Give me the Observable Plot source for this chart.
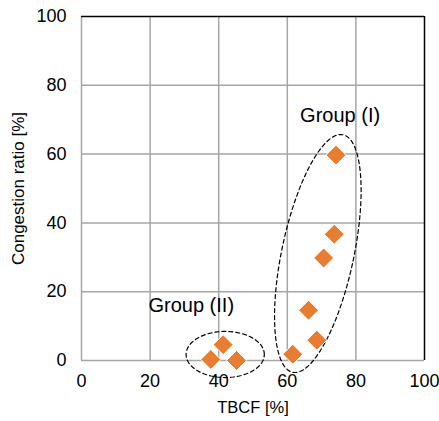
<!DOCTYPE html>
<html><head>
<meta charset="utf-8">
<script src="https://cdn.jsdelivr.net/npm/d3@7"></script>
<script src="https://cdn.jsdelivr.net/npm/@observablehq/plot@0.6"></script>
<style>
body{margin:0;background:#fff}
svg{font-family:"Liberation Sans",Arial,sans-serif}
</style>
</head><body><div id="chart"></div>
<script>
const tbcf = [37.7, 41.3, 45.2, 61.6, 68.6, 66.2, 70.6, 73.7, 74.2];
const congestion = [0.3, 4.6, 0, 1.8, 5.9, 14.6, 29.8, 36.7, 59.7];
const xTicks = [0, 20, 40, 60, 80, 100];
const yTicks = [0, 20, 40, 60, 80, 100];
const groupLabels = ["Group (I)", "Group (II)"];
const groupLabelX = [75.4, 32.0];
const groupLabelY = [71.3, 16.0];
// dashed ellipse annotations (data units): centre, minor/major semi-axes, tilt in degrees
const ellipseCx = [68.9, 41.9];
const ellipseCy = [31.1, 1.75];
const ellipseA = [10.5, 11.4];
const ellipseB = [35.3, 6.7];
const ellipseTilt = [12, 0];

const points = tbcf.map((x, i) => ({x, y: congestion[i]}));
const labels = groupLabels.map((t, i) => ({t, x: groupLabelX[i], y: groupLabelY[i]}));
const ellipse = [];
ellipseCx.forEach((cx, k) => {
  const th = ellipseTilt[k] * Math.PI / 180;
  for (let j = 0; j < 120; j++) {
    const t = j / 120 * 2 * Math.PI;
    const u = ellipseA[k] * Math.cos(t), v = ellipseB[k] * Math.sin(t);
    ellipse.push({g: k, x: cx + u * Math.cos(th) + v * Math.sin(th), y: ellipseCy[k] - u * Math.sin(th) + v * Math.cos(th)});
  }
});

const grid = "#a6a6a6";
const chart = Plot.plot({
  width: 439,
  height: 421,
  marginLeft: 81,
  marginRight: 15,
  marginTop: 16,
  marginBottom: 61,
  x: {domain: [0, 100]},
  y: {domain: [0, 100]},
  style: {fontFamily: '"Liberation Sans", Arial, sans-serif', color: "#000", background: "#fff"},
  marks: [
    Plot.ruleY(yTicks.filter(d => d < 100), {stroke: grid, strokeWidth: 1.5, strokeOpacity: 1}),
    Plot.ruleX(xTicks.filter(d => d < 100), {stroke: grid, strokeWidth: 1.5, strokeOpacity: 1}),
    Plot.ruleY([100], {stroke: "#000", strokeWidth: 1.5}),
    Plot.ruleX([100], {stroke: "#000", strokeWidth: 1.5}),
    Plot.axisX({ticks: xTicks, tickSize: 0, tickPadding: 14, fontSize: 18, label: null}),
    Plot.axisY({ticks: yTicks, tickSize: 0, tickPadding: 15, fontSize: 18, label: null}),
    Plot.axisX({ticks: [], label: "TBCF [%]", labelAnchor: "center", labelArrow: "none", labelOffset: 52, fontSize: 16.5}),
    Plot.axisY({ticks: [], label: "Congestion ratio [%]", labelAnchor: "center", labelArrow: "none", labelOffset: 70, fontSize: 17}),
    Plot.text(labels, {x: "x", y: "y", text: "t", fontSize: 20, fill: "#000"}),
    Plot.line(ellipse, {x: "x", y: "y", z: "g", curve: "linear-closed", stroke: "#000", strokeWidth: 1.2, strokeDasharray: "4,3"}),
    Plot.dot(points, {x: "x", y: "y", symbol: "diamond2", r: 9, fill: "#E87D31", stroke: "#fff", strokeWidth: 1})
  ]
});
document.getElementById("chart").appendChild(chart);
</script>
</body></html>
